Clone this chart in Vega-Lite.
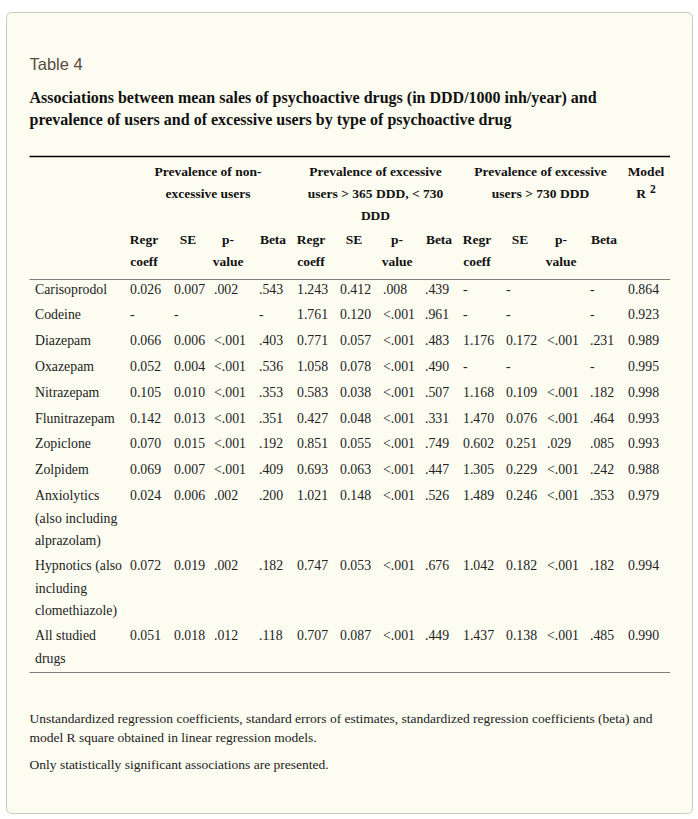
{
  "$schema": "https://vega.github.io/schema/vega-lite/v6.json",
  "width": 686,
  "height": 801,
  "padding": {"left": 6, "top": 12, "right": 6, "bottom": 6},
  "autosize": {"type": "none"},
  "background": "#ffffff",
  "config": {"view": {"fill": "#fdfcf1", "stroke": "#cdc9bd", "strokeWidth": 1, "cornerRadius": 5}},
  "datasets": {
    "topRule": [{"col": -1, "col2": 14, "slot": -7}],
    "grayRules": [{"col": -1, "col2": 14, "slot": -4}, {"col": -1, "col2": 14, "slot": 11}],
    "caption": [{"col": -1, "slot": -9, "text": "Table 4"}],
    "title": [{"col": -1, "slot": -8, "text": ["Associations between mean sales of psychoactive drugs (in DDD/1000 inh/year) and", "prevalence of users and of excessive users by type of psychoactive drug"]}],
    "groups": [
      {"col": 2.5, "slot": -6, "text": ["Prevalence of non-", "excessive users"]},
      {"col": 6.5, "slot": -6, "text": ["Prevalence of excessive", "users > 365 DDD, < 730", "DDD"]},
      {"col": 10.5, "slot": -6, "text": ["Prevalence of excessive", "users > 730 DDD"]}
    ],
    "model": [{"col": 13, "slot": -6, "text": "Model"}],
    "rLetter": [{"col": 13, "slot": -6, "text": "R"}],
    "rSup": [{"col": 13, "slot": -6, "text": "2"}],
    "colHeaders": [
      {"col": 1, "slot": -5, "text": ["Regr", "coeff"]},
      {"col": 2, "slot": -5, "text": ["SE"]},
      {"col": 3, "slot": -5, "text": ["p-", "value"]},
      {"col": 4, "slot": -5, "text": ["Beta"]},
      {"col": 5, "slot": -5, "text": ["Regr", "coeff"]},
      {"col": 6, "slot": -5, "text": ["SE"]},
      {"col": 7, "slot": -5, "text": ["p-", "value"]},
      {"col": 8, "slot": -5, "text": ["Beta"]},
      {"col": 9, "slot": -5, "text": ["Regr", "coeff"]},
      {"col": 10, "slot": -5, "text": ["SE"]},
      {"col": 11, "slot": -5, "text": ["p-", "value"]},
      {"col": 12, "slot": -5, "text": ["Beta"]}
    ],
    "drugs": [
      {"col": 0, "slot": 0, "text": ["Carisoprodol"]},
      {"col": 0, "slot": 1, "text": ["Codeine"]},
      {"col": 0, "slot": 2, "text": ["Diazepam"]},
      {"col": 0, "slot": 3, "text": ["Oxazepam"]},
      {"col": 0, "slot": 4, "text": ["Nitrazepam"]},
      {"col": 0, "slot": 5, "text": ["Flunitrazepam"]},
      {"col": 0, "slot": 6, "text": ["Zopiclone"]},
      {"col": 0, "slot": 7, "text": ["Zolpidem"]},
      {"col": 0, "slot": 8, "text": ["Anxiolytics", "(also including", "alprazolam)"]},
      {"col": 0, "slot": 9, "text": ["Hypnotics (also", "including", "clomethiazole)"]},
      {"col": 0, "slot": 10, "text": ["All studied", "drugs"]}
    ],
    "cells": [
      {"slot": 0, "col": 1, "text": "0.026"}, {"slot": 0, "col": 2, "text": "0.007"}, {"slot": 0, "col": 3, "text": ".002"}, {"slot": 0, "col": 4, "text": ".543"},
      {"slot": 0, "col": 5, "text": "1.243"}, {"slot": 0, "col": 6, "text": "0.412"}, {"slot": 0, "col": 7, "text": ".008"}, {"slot": 0, "col": 8, "text": ".439"},
      {"slot": 0, "col": 9, "text": "-"}, {"slot": 0, "col": 10, "text": "-"}, {"slot": 0, "col": 12, "text": "-"}, {"slot": 0, "col": 13, "text": "0.864"},
      {"slot": 1, "col": 1, "text": "-"}, {"slot": 1, "col": 2, "text": "-"}, {"slot": 1, "col": 4, "text": "-"},
      {"slot": 1, "col": 5, "text": "1.761"}, {"slot": 1, "col": 6, "text": "0.120"}, {"slot": 1, "col": 7, "text": "<.001"}, {"slot": 1, "col": 8, "text": ".961"},
      {"slot": 1, "col": 9, "text": "-"}, {"slot": 1, "col": 10, "text": "-"}, {"slot": 1, "col": 12, "text": "-"}, {"slot": 1, "col": 13, "text": "0.923"},
      {"slot": 2, "col": 1, "text": "0.066"}, {"slot": 2, "col": 2, "text": "0.006"}, {"slot": 2, "col": 3, "text": "<.001"}, {"slot": 2, "col": 4, "text": ".403"},
      {"slot": 2, "col": 5, "text": "0.771"}, {"slot": 2, "col": 6, "text": "0.057"}, {"slot": 2, "col": 7, "text": "<.001"}, {"slot": 2, "col": 8, "text": ".483"},
      {"slot": 2, "col": 9, "text": "1.176"}, {"slot": 2, "col": 10, "text": "0.172"}, {"slot": 2, "col": 11, "text": "<.001"}, {"slot": 2, "col": 12, "text": ".231"}, {"slot": 2, "col": 13, "text": "0.989"},
      {"slot": 3, "col": 1, "text": "0.052"}, {"slot": 3, "col": 2, "text": "0.004"}, {"slot": 3, "col": 3, "text": "<.001"}, {"slot": 3, "col": 4, "text": ".536"},
      {"slot": 3, "col": 5, "text": "1.058"}, {"slot": 3, "col": 6, "text": "0.078"}, {"slot": 3, "col": 7, "text": "<.001"}, {"slot": 3, "col": 8, "text": ".490"},
      {"slot": 3, "col": 9, "text": "-"}, {"slot": 3, "col": 10, "text": "-"}, {"slot": 3, "col": 12, "text": "-"}, {"slot": 3, "col": 13, "text": "0.995"},
      {"slot": 4, "col": 1, "text": "0.105"}, {"slot": 4, "col": 2, "text": "0.010"}, {"slot": 4, "col": 3, "text": "<.001"}, {"slot": 4, "col": 4, "text": ".353"},
      {"slot": 4, "col": 5, "text": "0.583"}, {"slot": 4, "col": 6, "text": "0.038"}, {"slot": 4, "col": 7, "text": "<.001"}, {"slot": 4, "col": 8, "text": ".507"},
      {"slot": 4, "col": 9, "text": "1.168"}, {"slot": 4, "col": 10, "text": "0.109"}, {"slot": 4, "col": 11, "text": "<.001"}, {"slot": 4, "col": 12, "text": ".182"}, {"slot": 4, "col": 13, "text": "0.998"},
      {"slot": 5, "col": 1, "text": "0.142"}, {"slot": 5, "col": 2, "text": "0.013"}, {"slot": 5, "col": 3, "text": "<.001"}, {"slot": 5, "col": 4, "text": ".351"},
      {"slot": 5, "col": 5, "text": "0.427"}, {"slot": 5, "col": 6, "text": "0.048"}, {"slot": 5, "col": 7, "text": "<.001"}, {"slot": 5, "col": 8, "text": ".331"},
      {"slot": 5, "col": 9, "text": "1.470"}, {"slot": 5, "col": 10, "text": "0.076"}, {"slot": 5, "col": 11, "text": "<.001"}, {"slot": 5, "col": 12, "text": ".464"}, {"slot": 5, "col": 13, "text": "0.993"},
      {"slot": 6, "col": 1, "text": "0.070"}, {"slot": 6, "col": 2, "text": "0.015"}, {"slot": 6, "col": 3, "text": "<.001"}, {"slot": 6, "col": 4, "text": ".192"},
      {"slot": 6, "col": 5, "text": "0.851"}, {"slot": 6, "col": 6, "text": "0.055"}, {"slot": 6, "col": 7, "text": "<.001"}, {"slot": 6, "col": 8, "text": ".749"},
      {"slot": 6, "col": 9, "text": "0.602"}, {"slot": 6, "col": 10, "text": "0.251"}, {"slot": 6, "col": 11, "text": ".029"}, {"slot": 6, "col": 12, "text": ".085"}, {"slot": 6, "col": 13, "text": "0.993"},
      {"slot": 7, "col": 1, "text": "0.069"}, {"slot": 7, "col": 2, "text": "0.007"}, {"slot": 7, "col": 3, "text": "<.001"}, {"slot": 7, "col": 4, "text": ".409"},
      {"slot": 7, "col": 5, "text": "0.693"}, {"slot": 7, "col": 6, "text": "0.063"}, {"slot": 7, "col": 7, "text": "<.001"}, {"slot": 7, "col": 8, "text": ".447"},
      {"slot": 7, "col": 9, "text": "1.305"}, {"slot": 7, "col": 10, "text": "0.229"}, {"slot": 7, "col": 11, "text": "<.001"}, {"slot": 7, "col": 12, "text": ".242"}, {"slot": 7, "col": 13, "text": "0.988"},
      {"slot": 8, "col": 1, "text": "0.024"}, {"slot": 8, "col": 2, "text": "0.006"}, {"slot": 8, "col": 3, "text": ".002"}, {"slot": 8, "col": 4, "text": ".200"},
      {"slot": 8, "col": 5, "text": "1.021"}, {"slot": 8, "col": 6, "text": "0.148"}, {"slot": 8, "col": 7, "text": "<.001"}, {"slot": 8, "col": 8, "text": ".526"},
      {"slot": 8, "col": 9, "text": "1.489"}, {"slot": 8, "col": 10, "text": "0.246"}, {"slot": 8, "col": 11, "text": "<.001"}, {"slot": 8, "col": 12, "text": ".353"}, {"slot": 8, "col": 13, "text": "0.979"},
      {"slot": 9, "col": 1, "text": "0.072"}, {"slot": 9, "col": 2, "text": "0.019"}, {"slot": 9, "col": 3, "text": ".002"}, {"slot": 9, "col": 4, "text": ".182"},
      {"slot": 9, "col": 5, "text": "0.747"}, {"slot": 9, "col": 6, "text": "0.053"}, {"slot": 9, "col": 7, "text": "<.001"}, {"slot": 9, "col": 8, "text": ".676"},
      {"slot": 9, "col": 9, "text": "1.042"}, {"slot": 9, "col": 10, "text": "0.182"}, {"slot": 9, "col": 11, "text": "<.001"}, {"slot": 9, "col": 12, "text": ".182"}, {"slot": 9, "col": 13, "text": "0.994"},
      {"slot": 10, "col": 1, "text": "0.051"}, {"slot": 10, "col": 2, "text": "0.018"}, {"slot": 10, "col": 3, "text": ".012"}, {"slot": 10, "col": 4, "text": ".118"},
      {"slot": 10, "col": 5, "text": "0.707"}, {"slot": 10, "col": 6, "text": "0.087"}, {"slot": 10, "col": 7, "text": "<.001"}, {"slot": 10, "col": 8, "text": ".449"},
      {"slot": 10, "col": 9, "text": "1.437"}, {"slot": 10, "col": 10, "text": "0.138"}, {"slot": 10, "col": 11, "text": "<.001"}, {"slot": 10, "col": 12, "text": ".485"}, {"slot": 10, "col": 13, "text": "0.990"}
    ],
    "footnotes": [
      {"col": -1, "slot": 12, "text": ["Unstandardized regression coefficients, standard errors of estimates, standardized regression coefficients (beta) and", "model R square obtained in linear regression models."]},
      {"col": -1, "slot": 13, "text": ["Only statistically significant associations are presented."]}
    ]
  },
  "encoding": {
    "x": {"field": "col", "type": "quantitative", "axis": null,
      "scale": {"domain": [-1, 0, 1, 2, 3, 4, 5, 6, 7, 8, 9, 10, 11, 12, 13, 14],
        "range": [23.5, 29, 124, 168, 208, 253, 291, 334, 377, 419, 457, 500, 541, 584, 622, 664],
        "nice": false, "zero": false}},
    "y": {"field": "slot", "type": "quantitative", "axis": null,
      "scale": {"domain": [-9, -8, -7, -6, -5, -4, 0, 1, 2, 3, 4, 5, 6, 7, 8, 9, 10, 11, 12, 13],
        "range": [58.5, 90.5, 144.5, 163.5, 232, 267.5, 281.5, 307.3, 333.1, 358.9, 384.7, 410.5, 436.3, 462.1, 488, 558, 628, 660.5, 710.5, 756.5],
        "nice": false, "zero": false}}
  },
  "layer": [
    {"data": {"name": "topRule"}, "mark": {"type": "rule", "color": "#000000", "strokeWidth": 1.3}, "encoding": {"x2": {"field": "col2"}}},
    {"data": {"name": "grayRules"}, "mark": {"type": "rule", "color": "#7d7d7d", "strokeWidth": 1}, "encoding": {"x2": {"field": "col2"}}},
    {"data": {"name": "caption"}, "mark": {"type": "text", "align": "left", "baseline": "top", "dy": -14, "font": "Liberation Sans", "fontSize": 16.5, "color": "#574c3e"}, "encoding": {"text": {"field": "text"}}},
    {"data": {"name": "title"}, "mark": {"type": "text", "align": "left", "baseline": "top", "dy": -13, "font": "Liberation Serif", "fontWeight": "bold", "fontSize": 16, "lineHeight": 22, "color": "#111111"}, "encoding": {"text": {"field": "text"}}},
    {"data": {"name": "groups"}, "mark": {"type": "text", "align": "center", "baseline": "top", "dx": 14, "dy": -11, "font": "Liberation Serif", "fontWeight": "bold", "fontSize": 13.5, "lineHeight": 22, "color": "#111111"}, "encoding": {"text": {"field": "text"}}},
    {"data": {"name": "model"}, "mark": {"type": "text", "align": "center", "baseline": "top", "dx": 18, "dy": -11, "font": "Liberation Serif", "fontWeight": "bold", "fontSize": 13.5, "color": "#111111"}, "encoding": {"text": {"field": "text"}}},
    {"data": {"name": "rLetter"}, "mark": {"type": "text", "align": "center", "baseline": "top", "dx": 13, "dy": 11, "font": "Liberation Serif", "fontWeight": "bold", "fontSize": 13.5, "color": "#111111"}, "encoding": {"text": {"field": "text"}}},
    {"data": {"name": "rSup"}, "mark": {"type": "text", "align": "left", "baseline": "top", "dx": 22, "dy": 8, "font": "Liberation Serif", "fontWeight": "bold", "fontSize": 11.5, "color": "#111111"}, "encoding": {"text": {"field": "text"}}},
    {"data": {"name": "colHeaders"}, "mark": {"type": "text", "align": "center", "baseline": "top", "dx": 14, "dy": -11, "font": "Liberation Serif", "fontWeight": "bold", "fontSize": 13.5, "lineHeight": 22, "color": "#111111"}, "encoding": {"text": {"field": "text"}}},
    {"data": {"name": "drugs"}, "mark": {"type": "text", "align": "left", "baseline": "top", "dy": -11, "font": "Liberation Serif", "fontSize": 13.8, "lineHeight": 22.5, "color": "#222222"}, "encoding": {"text": {"field": "text"}}},
    {"data": {"name": "cells"}, "mark": {"type": "text", "align": "left", "baseline": "top", "dy": -11, "font": "Liberation Serif", "fontSize": 13.8, "color": "#222222"}, "encoding": {"text": {"field": "text"}}},
    {"data": {"name": "footnotes"}, "mark": {"type": "text", "align": "left", "baseline": "top", "dy": -11, "font": "Liberation Serif", "fontSize": 13.5, "lineHeight": 19.5, "color": "#222222"}, "encoding": {"text": {"field": "text"}}}
  ]
}
